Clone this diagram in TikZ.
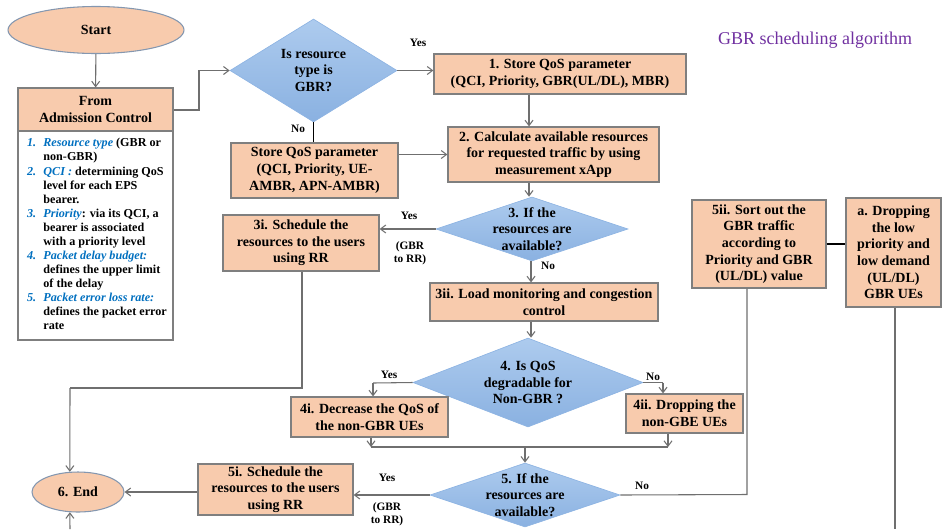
\documentclass[tikz,border=0pt]{standalone}
\usepackage{fontspec}
\setmainfont{Liberation Serif}
\usetikzlibrary{shapes.geometric,arrows.meta}
\definecolor{peach}{HTML}{F8CBAD}
\definecolor{boxline}{HTML}{7F7F7F}
\definecolor{ovalline}{HTML}{8497B0}
\definecolor{diatop}{HTML}{ADCBEE}
\definecolor{diabot}{HTML}{8AB1E1}
\definecolor{dialine}{HTML}{8EB4E3}
\definecolor{flow}{HTML}{6F6F6F}
\definecolor{keyblue}{HTML}{0070C0}
\definecolor{titlepurple}{HTML}{7030A0}
\newcommand{\keyword}[1]{{\color{keyblue}\itshape #1}}
\newcommand{\itemno}[1]{\makebox[12.3pt][l]{\color{keyblue}\itshape #1}}
\tikzset{
  boxfont/.style={font=\bfseries\fontsize{10.5}{12.5}\selectfont},
  stepbox/.style={draw=boxline, line width=0.9pt, fill=peach, align=center,
    inner sep=0pt, boxfont},
  oval/.style={ellipse, draw=ovalline, line width=0.8pt, fill=peach,
    inner sep=0pt, boxfont},
  decision/.style={diamond, draw=dialine, line width=0.5pt, top color=diatop,
    bottom color=diabot, inner sep=0pt},
  question/.style={label={[align=center, boxfont, inner sep=0pt]center:#1}},
  flowline/.style={draw=flow, line width=0.8pt},
  flowarrow/.style={flowline, -{Straight Barb[length=4pt,width=6pt]}},
  darkline/.style={draw=black, line width=0.8pt},
  tag/.style={font=\bfseries\fontsize{8.5}{10}\selectfont, align=center, inner sep=0pt},
}
\begin{document}
\begin{tikzpicture}[x=0.75pt,y=-0.75pt]
\useasboundingbox (0,0) rectangle (944,529);

% title
\node[text=titlepurple, font=\fontsize{13.5}{15}\selectfont] (title) at (815,40) {GBR scheduling algorithm};

% left column
\node[oval, minimum width=132pt, minimum height=35.25pt] (start) at (96,30) {Start};
\node[stepbox, minimum width=116.25pt, minimum height=32.25pt] (adm) at (95.5,109.5) {From\\Admission Control};
\node[draw=boxline, line width=0.9pt, fill=white, minimum width=116.25pt, minimum height=156.75pt,
      inner sep=0pt, font=\bfseries\fontsize{9.1}{10.55}\selectfont] (params) at (95.5,235.5) {%
  \makebox[102.75pt][l]{\begin{tabular}{@{}l@{}l@{}}
  \itemno{1.} & \keyword{Resource type} (GBR or\\
              & non-GBR)\\
  \itemno{2.} & \keyword{QCI :} determining QoS\\
              & level for each EPS\\
              & bearer.\\
  \itemno{3.} & \keyword{Priority}: via its QCI, a\\
              & bearer is associated\\
              & with a priority level\\
  \itemno{4.} & \keyword{Packet delay budget:}\\
              & defines the upper limit\\
              & of the delay\\
  \itemno{5.} & \keyword{Packet error loss rate:}\\
              & defines the packet error\\
              & rate
  \end{tabular}}};
\node[oval, minimum width=69pt, minimum height=30pt] (end) at (78,492) {6. End};

% decisions
\node[decision, minimum width=125.25pt, minimum height=77.25pt,
      question={Is resource\\type is\\GBR?}] (gbr) at (313.5,70.5) {};
\node[decision, minimum width=144pt, minimum height=48pt,
      question={3. If the\\resources are\\available?}] (avail) at (532,229) {};
\node[decision, minimum width=172.5pt, minimum height=66.75pt,
      question={4. Is QoS\\degradable for\\Non-GBR ?}] (degr) at (528,382.5) {};
\node[decision, minimum width=142.5pt, minimum height=48pt,
      question={5. If the\\resources are\\available?}] (avail2) at (525,495) {};

% process boxes
\node[stepbox, minimum width=189pt, minimum height=30pt] (storegbr) at (560,74) {1. Store QoS parameter\\(QCI, Priority, GBR(UL/DL), MBR)};
\node[stepbox, minimum width=158.25pt, minimum height=41.25pt] (calc) at (553.5,154.5) {2. Calculate available resources\\for requested traffic by using\\measurement xApp};
\node[stepbox, minimum width=125.25pt, minimum height=41.25pt] (storeng) at (314.5,170.5) {Store QoS parameter\\(QCI, Priority, UE-\\AMBR, APN-AMBR)};
\node[stepbox, minimum width=117pt, minimum height=42pt] (rr1) at (301,243) {3i. Schedule the\\resources to the users\\using RR};
\node[stepbox, minimum width=171pt, minimum height=28.5pt] (load) at (544,302) {3ii. Load monitoring and congestion\\control};
\node[stepbox, minimum width=117.75pt, minimum height=30pt] (decr) at (369.5,417) {4i. Decrease the QoS of\\the non-GBR UEs};
\node[stepbox, minimum width=87.75pt, minimum height=29.25pt] (dropng) at (684.5,413.5) {4ii. Dropping the\\non-GBE UEs};
\node[stepbox, minimum width=116.25pt, minimum height=38.25pt] (rr2) at (275.5,489.5) {5i. Schedule the\\resources to the users\\using RR};
\node[stepbox, minimum width=100.5pt, minimum height=66pt] (sort) at (759,244) {5ii. Sort out the\\GBR traffic\\according to\\Priority and GBR\\(UL/DL) value};
\node[stepbox, minimum width=71.25pt, minimum height=81.75pt] (dropgbr) at (893.5,252.5) {a. Dropping\\the low\\priority and\\low demand\\(UL/DL)\\GBR UEs};

% helper points of the routed connectors
\coordinate (admbend) at (199,110);
\coordinate (rr1turn) at (302,388);
\coordinate (endcol) at (70,388);
\coordinate (yes4) at (373,383);
\coordinate (no4) at (663,382.5);
\coordinate (merge) at (525,447);
\coordinate (mergeL) at (371,447);
\coordinate (mergeR) at (668,447);
\coordinate (no5) at (747,494.5);
\coordinate (dropdown) at (895,529);
\coordinate (fromlow) at (70,529);

% connectors
\draw[flowarrow] (start) -- (adm);
\draw[flowarrow] (adm.east |- admbend) -- (admbend) |- (gbr.west);
\draw[flowarrow] (gbr.east) -- (gbr.east -| storegbr.west);
\draw[darkline] (gbr.south) -- (storeng.north -| gbr.south);
\draw[flowarrow] (storegbr.south -| 529,0) -- (calc.north -| 529,0);
\draw[flowarrow] (storeng.east |- calc.west) -- (calc.west);
\draw[flowarrow] (calc.south -| 529,0) -- (avail.north -| 529,0);
\draw[flowarrow] (avail.west) -- (avail.west -| rr1.east);
\draw[flowarrow] (avail.south -| 531,0) -- (load.north -| 531,0);
\draw[flowarrow] (load.south -| 531,0) -- (degr.north -| 531,0);
\draw[flowline] (rr1.south -| rr1turn) -- (rr1turn) -- (endcol);
\draw[flowarrow] (endcol) -- (end.112);
\draw[flowline] (degr.west) -- (yes4);
\draw[flowarrow] (yes4) -- (decr.north -| yes4);
\draw[flowline] (degr.east) -- (no4);
\draw[flowarrow] (no4) -- (dropng.north -| no4);
\draw[flowarrow] (decr.south -| mergeL) -- (mergeL);
\draw[flowarrow] (dropng.south -| mergeR) -- (mergeR);
\draw[flowline] (mergeL) -- (mergeR);
\draw[flowarrow] (merge) -- (avail2.north);
\draw[flowarrow] (avail2.west) -- (avail2.west -| rr2.east);
\draw[flowarrow] (rr2.west |- end.east) -- (end.east);
\draw[flowline] (avail2.east) -- (no5) -- (sort.south -| no5);
\draw[darkline] (sort.east) -- (sort.east -| dropgbr.west);
\draw[flowline] (dropgbr.south -| dropdown) -- (dropdown);
\draw[flowarrow] (fromlow) -- (end.248);

% branch labels
\node[tag] (l1) at (418,43) {Yes};
\node[tag] (l2) at (298,129) {No};
\node[tag] (l3) at (409,216) {Yes};
\node[tag] (l4) at (410,253) {(GBR\\to RR)};
\node[tag] (l5) at (548,266) {No};
\node[tag] (l6) at (389,375) {Yes};
\node[tag] (l7) at (653,377) {No};
\node[tag] (l8) at (387,478) {Yes};
\node[tag] (l9) at (387,514) {(GBR\\to RR)};
\node[tag] (l10) at (642,486) {No};
\end{tikzpicture}
\end{document}
